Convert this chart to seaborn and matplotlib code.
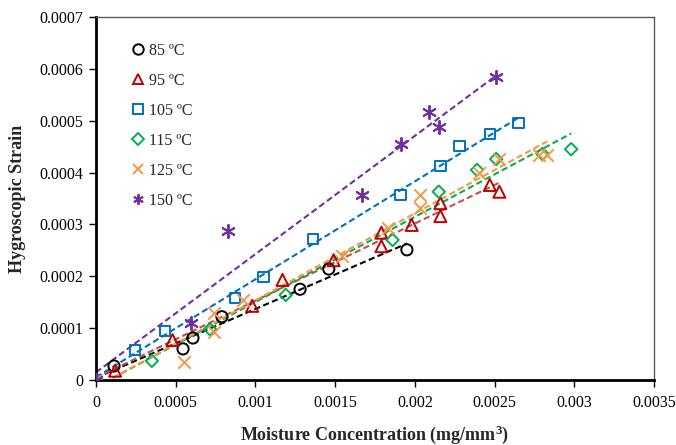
import numpy as np
import pandas as pd
import matplotlib
matplotlib.use("Agg")
import matplotlib.pyplot as plt
import seaborn as sns

# ---- data ----
labels = ["85 ºC", "95 ºC", "105 ºC", "115 ºC", "125 ºC", "150 ºC"]

x85 = [0, 0.000113, 0.000546, 0.000608, 0.00079, 0.00128, 0.00146, 0.00195]
y85 = [0, 0.000027, 0.000060, 0.000081, 0.000122, 0.000175, 0.000214, 0.000251]

x95 = [0, 0.00012, 0.00048, 0.00098, 0.00117, 0.00149, 0.00179, 0.00179, 0.00198, 0.00216, 0.00216, 0.00247, 0.00253]
y95 = [0, 0.000018, 0.000077, 0.000143, 0.000193, 0.000231, 0.000284, 0.000258, 0.000299, 0.000316, 0.000341, 0.000376, 0.000363]

x105 = [0, 0.000245, 0.000433, 0.00087, 0.00105, 0.00136, 0.00191, 0.00216, 0.00228, 0.00247, 0.00265]
y105 = [0, 0.000058, 0.000094, 0.000158, 0.000199, 0.000272, 0.000357, 0.000413, 0.000451, 0.000474, 0.000496]

x115 = [0, 0.00035, 0.000715, 0.00119, 0.00186, 0.00215, 0.00239, 0.00251, 0.0028, 0.00298]
y115 = [0, 0.000037, 0.000098, 0.000164, 0.00027, 0.000363, 0.000405, 0.000426, 0.000436, 0.000445]

x125 = [0, 0.00055, 0.00074, 0.00074, 0.00092, 0.00154, 0.00183, 0.00203, 0.00203, 0.0024, 0.00253, 0.00278, 0.00283]
y125 = [0, 0.000035, 0.000093, 0.000129, 0.000154, 0.000239, 0.000293, 0.000332, 0.000357, 0.000399, 0.000426, 0.000434, 0.000434]

x150 = [0, 0.000596, 0.00083, 0.00167, 0.00191, 0.00209, 0.00215, 0.00251]
y150 = [0, 0.00011, 0.000287, 0.000357, 0.000455, 0.000517, 0.000488, 0.000584]

xs = [x85, x95, x105, x115, x125, x150]
ys = [y85, y95, y105, y115, y125, y150]

marker_colors = ["#000000", "#c00000", "#0070c0", "#00b050", "#f79646", "#7030a0"]
line_colors = ["#000000", "#c0504d", "#0070c0", "#00b050", "#f79646", "#7030a0"]
markers = ["o", "^", "s", "D", "x", (6, 2, 0)]
msizes = [65, 75, 55, 40, 80, 90]
filled = [True, True, True, True, False, False]

xticks = [0, 0.0005, 0.001, 0.0015, 0.002, 0.0025, 0.003, 0.0035]
xticklabels = ["0", "0.0005", "0.001", "0.0015", "0.002", "0.0025", "0.003", "0.0035"]
yticks = [0, 0.0001, 0.0002, 0.0003, 0.0004, 0.0005, 0.0006, 0.0007]
yticklabels = ["0", "0.0001", "0.0002", "0.0003", "0.0004", "0.0005", "0.0006", "0.0007"]

# ---- plot ----
sns.set_theme(style="white")
plt.rcParams["font.family"] = ["Liberation Serif", "DejaVu Serif"]
plt.rcParams["mathtext.fontset"] = "custom"
plt.rcParams["mathtext.rm"] = "Liberation Serif"
plt.rcParams["mathtext.bf"] = "Liberation Serif:bold"

fig = plt.figure(figsize=(6.76, 4.45), dpi=100)
ax = fig.add_axes([0.142, 0.146, 0.9675 - 0.142, 0.962 - 0.146])

handles = []
for i in range(6):
    df = pd.DataFrame({"x": xs[i], "y": ys[i]})
    sns.regplot(data=df, x="x", y="y", ax=ax, ci=None, scatter=False, truncate=True,
                line_kws=dict(color=line_colors[i], ls=(0, (3, 1.6)), lw=1.5, zorder=2))
for i in range(6):
    df = pd.DataFrame({"x": xs[i], "y": ys[i]})
    if filled[i]:
        sns.scatterplot(data=df, x="x", y="y", ax=ax, marker=markers[i], s=msizes[i],
                        facecolors="none", edgecolors=marker_colors[i], linewidths=1.4,
                        zorder=3)
    else:
        sns.scatterplot(data=df, x="x", y="y", ax=ax, marker=markers[i], s=msizes[i],
                        color=marker_colors[i], linewidths=1.4, zorder=3)
    h = plt.Line2D([], [], ls="none", marker=markers[i], markersize=7.5 if i != 3 else 6.5,
                   markerfacecolor="none", markeredgecolor=marker_colors[i],
                   markeredgewidth=1.4, color=marker_colors[i])
    handles.append(h)

ax.set_xlim(0, 0.0035)
ax.set_ylim(0, 0.0007)
ax.set_xticks(xticks)
ax.set_xticklabels(xticklabels)
ax.set_yticks(yticks)
ax.set_yticklabels(yticklabels)
ax.tick_params(axis="both", direction="out", length=5, width=1, colors="black",
               labelsize=11.5, left=True, bottom=True)
ax.tick_params(axis="x", pad=5.5)
ax.tick_params(axis="y", pad=4)
for sp in ["left", "bottom"]:
    ax.spines[sp].set_color("black")
    ax.spines[sp].set_linewidth(2)
for sp in ["top", "right"]:
    ax.spines[sp].set_color("#595959")
    ax.spines[sp].set_linewidth(1)

ax.set_xlabel("Moisture Concentration (mg/mm$\\mathbf{^3}$)", fontsize=13, fontweight="bold",
              labelpad=9)
ax.set_ylabel("Hygroscopic Strain", fontsize=13, fontweight="bold", labelpad=10)

ax.legend(handles, labels, loc="upper left", bbox_to_anchor=(0.052, 0.947), frameon=False,
          fontsize=11.5, labelspacing=0.88, handlelength=0.8, handletextpad=0.3,
          borderaxespad=0)

fig.savefig("out.png", dpi=100)
